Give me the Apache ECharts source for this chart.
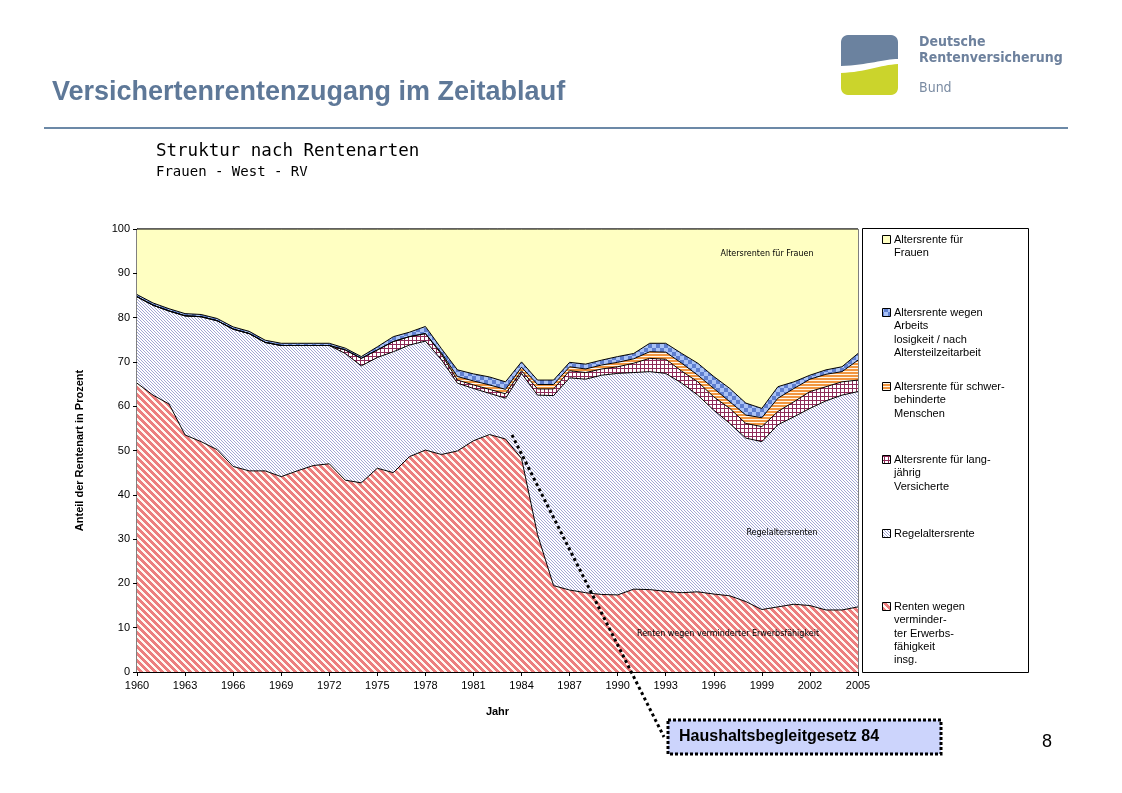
<!DOCTYPE html>
<html>
<head>
<meta charset="utf-8">
<script src="https://cdn.jsdelivr.net/npm/echarts@6/dist/echarts.min.js"></script>
<style>
html,body{margin:0;padding:0;background:#fff;}
#chart{width:1122px;height:793px;}
</style>
</head>
<body>
<div id="chart"></div>
<script>
// ---- data (values in percent) ----
const years = [];
for (let y = 1960; y <= 2005; y++) years.push(String(y));

const seriesNames = [
  'Renten wegen verminderter Erwerbsfähigkeit insg.',
  'Regelaltersrente',
  'Altersrente für langjährig Versicherte',
  'Altersrente für schwerbehinderte Menschen',
  'Altersrente wegen Arbeitslosigkeit / nach Altersteilzeitarbeit',
  'Altersrente für Frauen'
];

const erwerbsminderung = [65.2,62.5,60.5,53.5,52.0,50.2,46.4,45.4,45.4,44.1,45.4,46.6,47.0,43.3,42.7,46.0,45.0,48.6,50.1,49.1,49.9,52.2,53.6,52.6,48.2,31.0,19.5,18.5,17.9,17.5,17.4,18.7,18.6,18.2,17.9,18.1,17.6,17.2,15.9,14.1,14.7,15.3,15.0,14.0,14.0,14.7];
const regelaltersrente = [19.5,20.3,21.0,26.9,28.2,29.1,31.0,31.0,29.0,29.6,28.3,27.1,26.7,28.6,26.4,25.0,27.3,25.2,24.6,21.4,15.3,11.8,9.3,9.2,19.2,31.5,42.9,47.9,48.2,49.5,50.0,48.9,49.2,49.2,47.3,44.4,41.5,38.9,36.9,37.9,41.1,42.3,44.5,47.2,48.5,48.6];
const langjaehrig = [0,0,0,0,0,0,0,0,0,0,0,0,0,0.8,1.7,1.7,2.3,1.9,1.7,1.2,0.7,0.8,0.9,1.0,0.6,1.4,1.5,1.6,1.5,1.4,1.5,2.1,3.0,3.2,2.7,3.0,3.0,3.4,3.3,3.4,3.0,3.4,3.8,3.2,3.0,2.6];
const schwerbehindert = [0,0,0,0,0,0,0,0,0,0,0,0,0,0,0,0,0,0,0,0.3,0.8,0.9,1.0,1.0,0.8,1.0,1.0,0.9,0.8,0.9,1.0,1.0,1.5,1.6,1.8,1.5,1.9,1.5,1.9,2.0,3.0,3.0,2.8,2.8,2.3,4.5];
const arbeitslosigkeit = [0.5,0.5,0.5,0.5,0.5,0.5,0.5,0.5,0.5,0.5,0.5,0.5,0.5,0.4,0.4,0.7,1.1,1.0,1.6,1.0,1.5,1.6,1.8,1.7,1.2,1.0,1.0,1.0,1.1,1.1,1.3,1.2,1.9,2.0,2.2,2.7,2.7,3.0,2.7,2.1,2.6,1.5,0.9,1.0,1.1,1.5];
const frauen = [14.8,16.7,18.0,19.1,19.3,20.2,22.1,23.1,25.1,25.8,25.8,25.8,25.8,26.9,28.8,26.6,24.3,23.3,22.0,27.0,31.8,32.7,33.4,34.5,30.0,34.1,34.1,30.1,30.5,29.6,28.8,28.1,25.8,25.8,28.1,30.3,33.3,36.0,39.3,40.5,35.6,34.5,33.0,31.8,31.1,28.1];

const yTicks = [0,10,20,30,40,50,60,70,80,90,100];

const legendLabels = [
  'Renten wegen\nverminder-\nter Erwerbs-\nfähigkeit\ninsg.',
  'Regelaltersrente',
  'Altersrente für lang-\njährig\nVersicherte',
  'Altersrente für schwer-\nbehinderte\nMenschen',
  'Altersrente wegen\nArbeits\nlosigkeit / nach\nAltersteilzeitarbeit',
  'Altersrente für\nFrauen'
];

// ---- fill patterns ----
function hex(c){return [parseInt(c.substr(1,2),16),parseInt(c.substr(3,2),16),parseInt(c.substr(5,2),16)];}
function makePattern(w,h,fn){
  const c=document.createElement('canvas');c.width=w;c.height=h;
  const g=c.getContext('2d');const img=g.createImageData(w,h);
  for(let y=0;y<h;y++)for(let x=0;x<w;x++){
    const col=hex(fn(x,y));const i=(y*w+x)*4;
    img.data[i]=col[0];img.data[i+1]=col[1];img.data[i+2]=col[2];img.data[i+3]=255;
  }
  g.putImageData(img,0,0);
  return {image:c,repeat:'repeat'};
}
const mod=(a,n)=>((a%n)+n)%n;
const patRed = makePattern(7,7,(x,y)=> mod(x-y,7)<4 ? '#ec7e7e' : '#fff8f2');
const patRegel = makePattern(3,3,(x,y)=> mod(x-y,3)===0 ? '#a2a5d4' : '#ffffff');
const patLang = makePattern(4,4,(x,y)=> (x%4===0||y%4===0) ? '#8e2a58' : '#ffffff');
const patSchwer = makePattern(3,3,(x,y)=> (y%3!==2) ? '#f29640' : '#fff6e6');
const patALO = makePattern(8,8,(x,y)=> ((Math.floor(x/4)+Math.floor(y/4))%2===0) ? '#5f7fcf' : '#a9c2f6');
const colFrauen = '#ffffc2';
const fills = [patRed, patRegel, patLang, patSchwer, patALO, colFrauen];
const dataSets = [erwerbsminderung, regelaltersrente, langjaehrig, schwerbehindert, arbeitslosigkeit, frauen];

// ---- logo outline helpers ----
function cubic(p0,p1,p2,p3,n){const out=[];for(let i=1;i<=n;i++){const t=i/n,u=1-t;
  out.push([u*u*u*p0[0]+3*u*u*t*p1[0]+3*u*t*t*p2[0]+t*t*t*p3[0], u*u*u*p0[1]+3*u*u*t*p1[1]+3*u*t*t*p2[1]+t*t*t*p3[1]]);}return out;}
function corner(cx,cy,r,a0,a1,n){const out=[];for(let i=0;i<=n;i++){const a=a0+(a1-a0)*i/n;out.push([cx+r*Math.cos(a),cy+r*Math.sin(a)]);}return out;}
const PI=Math.PI;
const logoTop = [].concat(
  corner(848,42,7,PI,1.5*PI,6),
  corner(891,42,7,1.5*PI,2*PI,6),
  [[898,59]],
  cubic([898,59],[884,59],[868,65],[841,66],16),
  [[841,42]]
);
const logoBottom = [].concat(
  [[841,73]],
  cubic([841,73],[866,72],[880,65],[898,64],16),
  corner(891,88,7,0,0.5*PI,6),
  corner(848,88,7,0.5*PI,PI,6)
);

const chart = echarts.init(document.getElementById('chart'), null, {renderer:'canvas'});

const series = dataSets.map((d,i)=>({
  name: seriesNames[i],
  type: 'line',
  stack: 'total',
  data: d,
  showSymbol: false,
  symbol: 'none',
  lineStyle: {color:'#000', width: 1},
  areaStyle: {color: fills[i], opacity: 1},
  z: 2
}));

// legend drawn inside a framed box
const legendFirstLine = [607, 534, 460, 387, 313, 240];
const legendGraphics = [{
  type:'rect', shape:{x:862.5,y:228.5,width:166,height:444},
  style:{fill:'#fff',stroke:'#000',lineWidth:1}, z:1
}];
legendLabels.forEach((lab,i)=>{
  legendGraphics.push({type:'rect', shape:{x:882.5,y:legendFirstLine[i]-4.5,width:8,height:8},
    style:{fill:fills[i],stroke:'#000',lineWidth:1}, z:5});
  legendGraphics.push({type:'text', x:894, y:legendFirstLine[i]-7,
    style:{text:lab, font:'11px "Liberation Sans", Arial, sans-serif', fill:'#000', lineHeight:13.4, verticalAlign:'top', align:'left'}, z:5});
});

const option = {
  animation: false,
  backgroundColor: '#fff',
  grid: {left:137, right:264, top:229, bottom:121, show:true, borderColor:'#000', borderWidth:1, backgroundColor:'transparent'},
  xAxis: {
    type:'category', data: years, boundaryGap:false,
    name:'Jahr', nameLocation:'middle', nameGap:34,
    nameTextStyle:{fontFamily:'"Liberation Sans", Arial, sans-serif', fontSize:11, fontWeight:'bold', color:'#000'},
    axisLine:{lineStyle:{color:'#000',width:1}},
    axisTick:{interval:2, length:4, inside:false, lineStyle:{color:'#000'}},
    axisLabel:{interval:2, color:'#000', fontSize:11, fontFamily:'"Liberation Sans Narrow","Liberation Sans", Arial, sans-serif', margin:8},
    splitLine:{show:false}
  },
  yAxis: {
    type:'value', min:0, max:100, interval:10,
    name:'Anteil der Rentenart in Prozent', nameLocation:'middle', nameGap:52, nameRotate:90,
    nameTextStyle:{fontFamily:'"Liberation Sans", Arial, sans-serif', fontSize:11, fontWeight:'bold', color:'#000'},
    axisLine:{show:true, lineStyle:{color:'#000',width:1}},
    axisTick:{show:true, length:4, lineStyle:{color:'#000'}},
    axisLabel:{color:'#000', fontSize:11, fontFamily:'"Liberation Sans", Arial, sans-serif', margin:7,
      formatter:(v)=> yTicks.indexOf(v)>=0 ? String(v) : ''},
    splitLine:{show:false}
  },
  series: series,
  graphic: [
    // header title and rule
    {type:'text', x:52, y:93, style:{text:'Versichertenrentenzugang im Zeitablauf', font:'bold 27px "Liberation Sans", Arial, sans-serif', fill:'#5e7898', verticalAlign:'middle'}},
    {type:'rect', shape:{x:44,y:127,width:1024,height:2}, style:{fill:'#6c89a7'}},
    // logo
    {type:'polygon', shape:{points:logoTop}, style:{fill:'#6b829f'}},
    {type:'polygon', shape:{points:logoBottom}, style:{fill:'#cbd42c'}},
    {type:'text', x:919, y:42, style:{text:'Deutsche', font:'bold 14px "DejaVu Sans Condensed","DejaVu Sans", sans-serif', fill:'#6d819d', verticalAlign:'middle'}},
    {type:'text', x:919, y:58, style:{text:'Rentenversicherung', font:'bold 14px "DejaVu Sans Condensed","DejaVu Sans", sans-serif', fill:'#6d819d', verticalAlign:'middle'}},
    {type:'text', x:919, y:88, style:{text:'Bund', font:'14px "DejaVu Sans Condensed","DejaVu Sans", sans-serif', fill:'#7b8ca3', verticalAlign:'middle'}},
    // chart titles
    {type:'text', x:156, y:151, style:{text:'Struktur nach Rentenarten', font:'17.5px "DejaVu Sans Mono", monospace', fill:'#000', verticalAlign:'middle'}},
    {type:'text', x:156, y:172, style:{text:'Frauen - West - RV', font:'14px "DejaVu Sans Mono", monospace', fill:'#000', verticalAlign:'middle'}},
    // in-plot labels
    {type:'text', x:767, y:254, z:10, style:{text:'Altersrenten für Frauen', font:'8px "DejaVu Sans", sans-serif', fill:'#000', align:'center', verticalAlign:'middle'}},
    {type:'text', x:782, y:533, z:10, style:{text:'Regelaltersrenten', font:'8px "DejaVu Sans", sans-serif', fill:'#000', align:'center', verticalAlign:'middle'}},
    {type:'text', x:728, y:634, z:10, style:{text:'Renten wegen verminderter Erwerbsfähigkeit', font:'8px "DejaVu Sans", sans-serif', fill:'#000', align:'center', verticalAlign:'middle'}},
    // annotation
    {type:'line', z:20, shape:{x1:512,y1:435,x2:664,y2:737}, style:{stroke:'#000', lineWidth:3, lineDash:[3,3]}},
    {type:'rect', z:20, shape:{x:668,y:720,width:273,height:34}, style:{fill:'#ccd4fc', stroke:'#000', lineWidth:3, lineDash:[3,2]}},
    {type:'text', z:21, x:679, y:737, style:{text:'Haushaltsbegleitgesetz 84', font:'bold 16px "Liberation Sans", Arial, sans-serif', fill:'#000', verticalAlign:'middle'}},
    // page number
    {type:'text', x:1047, y:742, style:{text:'8', font:'18px "Liberation Sans", Arial, sans-serif', fill:'#000', align:'center', verticalAlign:'middle'}}
  ].concat(legendGraphics)
};
chart.setOption(option);
</script>
</body>
</html>
